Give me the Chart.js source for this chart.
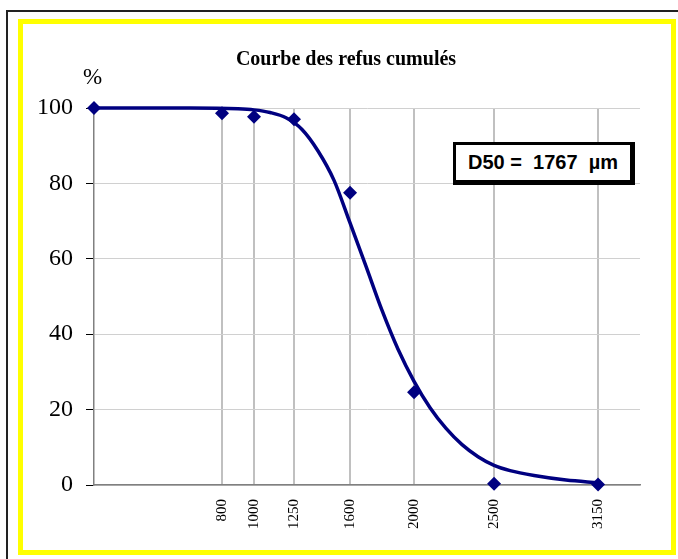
<!DOCTYPE html>
<html>
<head>
<meta charset="utf-8">
<script src="https://cdn.jsdelivr.net/npm/chart.js@4"></script>
<style>
    html, body { margin: 0; padding: 0; background: #fff; }
    #wrap { position: relative; width: 678px; height: 559px; overflow: hidden; }
    #outer { position: absolute; left: 6px; top: 10px; width: 700px; height: 600px; border-left: 2px solid #222; border-top: 2px solid #222; }
    #frame { position: absolute; left: 18px; top: 19px; width: 648px; height: 526px; border: 5px solid #ffff00; }
    canvas { position: absolute; left: 0; top: 0; }
    #title { position: absolute; left: 0; width: 692px; top: 47px; text-align: center; font: bold 20px "Liberation Serif", serif; }
    #pct { position: absolute; left: 83px; top: 64px; font: 23px "Liberation Serif", serif; }
    #d50 { position: absolute; left: 453px; top: 142px; width: 174px; height: 35px; border: 3px solid #000; border-right-width: 5px; border-bottom-width: 5px; background: #fff;
           font: bold 20px "Liberation Sans", Arial, sans-serif; line-height: 35px; text-align: center; white-space: pre; }
</style>
</head>
<body>
<div id="wrap">
    <div id="outer"></div>
    <div id="frame"></div>
    <canvas id="chart" width="678" height="559"></canvas>
    <div id="title">Courbe des refus cumulés</div>
    <div id="pct">%</div>
    <div id="d50">D50 =  1767  µm</div>
</div>
<script>
// sieve openings (µm) and cumulative retained (%)
const sieves = [0, 800, 1000, 1250, 1600, 2000, 2500, 3150];
const retained = [100, 98.6, 97.7, 97.0, 77.5, 24.6, 0.3, 0.1];

// fitted curve
const curveX = [0, 600, 900, 1000, 1100, 1200, 1300, 1400, 1500, 1600, 1700, 1800, 1900, 2000,
                2100, 2200, 2300, 2400, 2500, 2600, 2750, 2950, 3150];
const curveY = [100, 100, 99.8, 99.5, 98.8, 97.4, 94.3, 88.6, 80.8, 69.5, 58.0, 46.3, 36.0, 27.5,
                20.5, 15.0, 10.7, 7.5, 5.2, 3.8, 2.5, 1.3, 0.6];

const xTicks = [800, 1000, 1250, 1600, 2000, 2500, 3150];
const yTicks = [0, 20, 40, 60, 80, 100];

const navy = '#000080';

const ctx = document.getElementById('chart');
new Chart(ctx, {
    type: 'scatter',
    data: {
        datasets: [{
            label: 'Fit',
            type: 'line',
            data: curveX.map((x, i) => ({ x: x, y: curveY[i] })),
            borderColor: navy,
            borderWidth: 3.5,
            pointRadius: 0,
            cubicInterpolationMode: 'monotone',
            clip: false
        }, {
            label: 'Refus',
            data: sieves.map((x, i) => ({ x: x, y: retained[i] })),
            backgroundColor: navy,
            borderColor: navy,
            borderWidth: 0,
            pointStyle: 'rectRot',
            pointRadius: 7,
            clip: false
        }]
    },
    options: {
        responsive: false,
        animation: false,
        layout: { padding: { left: 0, top: 108, right: 38, bottom: 0 } },
        plugins: {
            legend: { display: false },
            tooltip: { enabled: false }
        },
        scales: {
            x: {
                type: 'linear',
                min: 0,
                max: 3412,
                afterBuildTicks: (scale) => { scale.ticks = xTicks.map(v => ({ value: v })); },
                afterFit: (scale) => { scale.height = 74; },
                ticks: {
                    minRotation: 90,
                    maxRotation: 90,
                    padding: 14,
                    color: '#000',
                    font: { family: 'Liberation Serif', size: 15 },
                    callback: (v) => String(v)
                },
                grid: { color: '#c0c0c0', lineWidth: 2, tickLength: 0 },
                border: { color: '#808080', width: 1.5 }
            },
            y: {
                min: 0,
                max: 100,
                afterBuildTicks: (scale) => { scale.ticks = yTicks.map(v => ({ value: v })); },
                afterFit: (scale) => { scale.width = 94; },
                ticks: {
                    padding: 13,
                    color: '#000',
                    font: { family: 'Liberation Serif', size: 24 }
                },
                grid: { color: '#d0d0d0', lineWidth: 1, tickLength: 8, tickColor: '#000' },
                border: { color: '#808080', width: 1.5 }
            }
        }
    }
});
</script>
</body>
</html>
